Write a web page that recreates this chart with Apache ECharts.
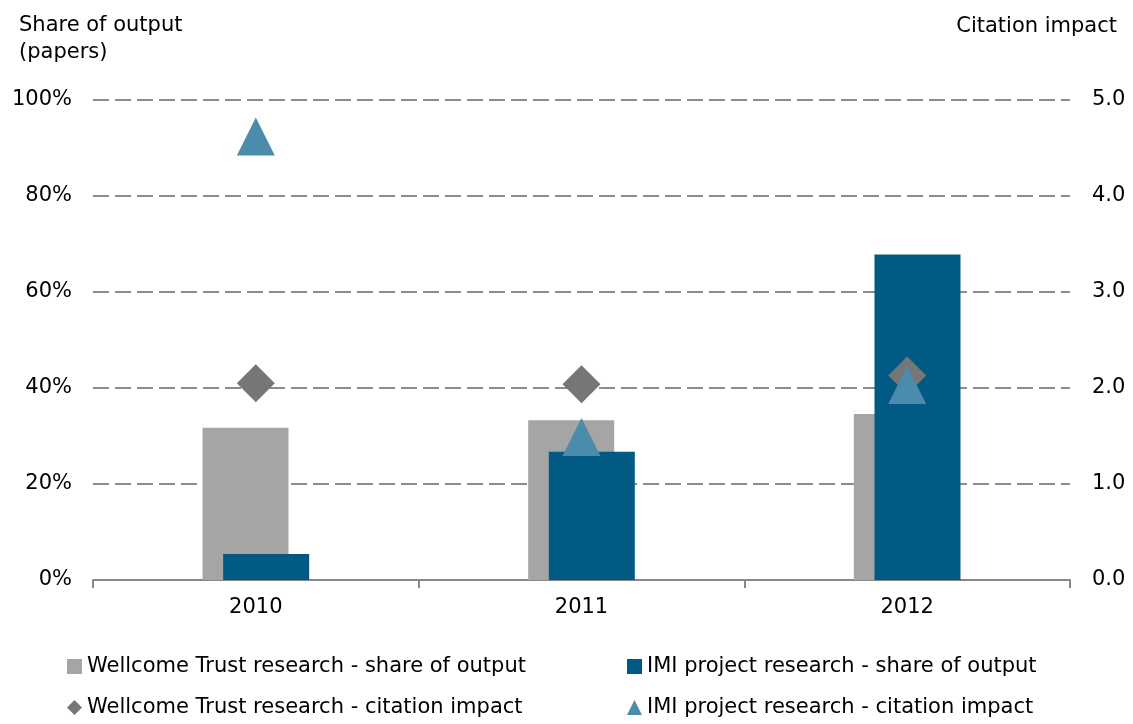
<!DOCTYPE html>
<html>
<head>
<meta charset="utf-8">
<script src="https://cdn.jsdelivr.net/npm/echarts@6/dist/echarts.min.js"></script>
<style>
    html, body { margin: 0; padding: 0; background: #fff; }
    #chart { width: 1133px; height: 724px; }
</style>
</head>
<body>
<div id="chart"></div>
<script>
(function () {

    var years = ['2010', '2011', '2012'];
    var wellcomeShare = [31.7, 33.3, 34.6];
    var imiShare = [5.4, 26.7, 67.8];
    var wellcomeImpact = [2.05, 2.04, 2.13];
    var imiImpact = [4.62, 1.49, 2.03];

    var font = 'DejaVu Sans, Verdana, sans-serif';
    var fs = 21;
    var ec = echarts.init(document.getElementById('chart'));

    ec.setOption({
        animation: false,
        textStyle: { fontFamily: font },
        grid: { left: 93, right: 63, top: 100, bottom: 144 },
        title: [
            {
                text: 'Share of output\n(papers)',
                left: 14, top: 7,
                textStyle: { fontSize: fs, fontWeight: 'normal', color: '#000', lineHeight: 27, fontFamily: font }
            },
            {
                text: 'Citation impact',
                right: 11, top: 11,
                textStyle: { fontSize: fs, fontWeight: 'normal', color: '#000', fontFamily: font }
            }
        ],
        legend: [
            {
                left: 62, top: 651, orient: 'vertical', itemGap: 20,
                itemWidth: 15, itemHeight: 15,
                textStyle: { fontSize: fs, color: '#000', fontFamily: font },
                data: [
                    { name: 'Wellcome Trust research - share of output', icon: 'rect' },
                    { name: 'Wellcome Trust research - citation impact', icon: 'diamond' }
                ]
            },
            {
                left: 622, top: 651, orient: 'vertical', itemGap: 20,
                itemWidth: 15, itemHeight: 15,
                textStyle: { fontSize: fs, color: '#000', fontFamily: font },
                data: [
                    { name: 'IMI project research - share of output', icon: 'rect' },
                    { name: 'IMI project research - citation impact', icon: 'triangle' }
                ]
            }
        ],
        xAxis: {
            type: 'category',
            data: years,
            axisLine: { lineStyle: { color: '#888', width: 2 } },
            axisTick: { show: true, length: 8, lineStyle: { color: '#888', width: 2 } },
            axisLabel: { fontSize: fs, color: '#000', margin: 17 }
        },
        yAxis: [
            {
                type: 'value', min: 0, max: 100, interval: 20,
                axisLine: { show: false },
                axisTick: { show: false },
                axisLabel: { fontSize: fs, color: '#000', margin: 21, formatter: '{value}%' },
                splitLine: { lineStyle: { color: '#8c8c8c', width: 2, type: [16, 6] } }
            },
            {
                type: 'value', min: 0, max: 5, interval: 1,
                axisLine: { show: false },
                axisTick: { show: false },
                axisLabel: {
                    fontSize: fs, color: '#000', margin: 22,
                    formatter: function (v) { return v.toFixed(1); }
                },
                splitLine: { show: false }
            }
        ],
        series: [
            {
                name: 'Wellcome Trust research - share of output',
                type: 'bar', barWidth: 86, barGap: '-76%',
                itemStyle: { color: '#a5a5a5' },
                data: wellcomeShare
            },
            {
                name: 'IMI project research - share of output',
                type: 'bar', barWidth: 86, barGap: '-76%',
                itemStyle: { color: '#005a84' },
                data: imiShare
            },
            {
                name: 'Wellcome Trust research - citation impact',
                type: 'scatter', yAxisIndex: 1,
                symbol: 'diamond', symbolSize: 38,
                itemStyle: { color: '#767676', opacity: 1 },
                data: wellcomeImpact
            },
            {
                name: 'IMI project research - citation impact',
                type: 'scatter', yAxisIndex: 1,
                symbol: 'triangle', symbolSize: 38,
                itemStyle: { color: '#4b8bab', opacity: 1 },
                data: imiImpact
            }
        ]
    });

})();
</script>
</body>
</html>
